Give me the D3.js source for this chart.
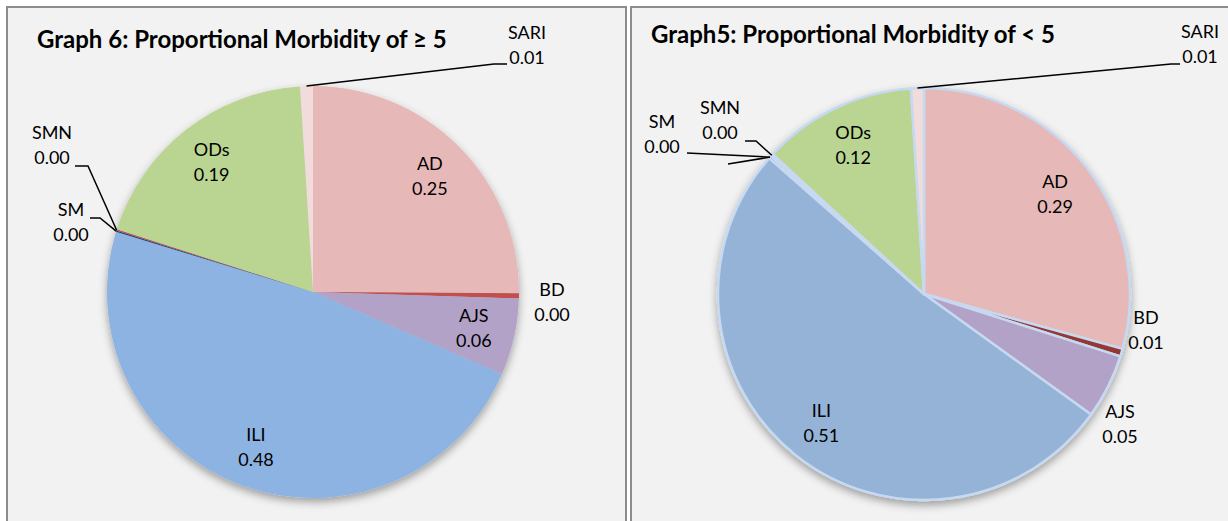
<!DOCTYPE html>
<html>
<head>
<meta charset="utf-8">
<script src="https://cdn.jsdelivr.net/npm/d3@7"></script>
<style>
  body { margin: 0; background: #fff; }
  svg { display: block; font-family: Lato, "Noto Sans", sans-serif; }
</style>
</head>
<body>
<svg id="chart" width="1228" height="521"></svg>
<script>
const categories = ["AD", "BD", "AJS", "ILI", "SM", "SMN", "ODs", "SARI"];
const over5Values = [0.25, 0.004, 0.06, 0.48, 0.001, 0.001, 0.19, 0.01];
const under5Values = [0.29, 0.006, 0.05, 0.51, 0.002, 0.002, 0.12, 0.01];
const over5Colors = ["#e6b9b8", "#c0504d", "#b3a2c7", "#8db3e2", "#1f497d", "#c0504d", "url(#green0)", "#f2dcdb"];
const under5Colors = ["#e6b9b8", "#953735", "#b3a2c7", "#95b3d7", "#4f81bd", "#c0504d", "url(#green1)", "#f2dcdb"];
const titles = ["Graph 6: Proportional Morbidity of \u2265 5", "Graph5: Proportional Morbidity of < 5"];

const fmt = d3.format(".2f");
const svg = d3.select("#chart");
const defs = svg.append("defs");

// panels
const panels = [{ x: 7, y: 7, w: 619 }, { x: 631, y: 7, w: 620 }];
panels.forEach(p => {
    svg.append("rect")
        .attr("x", p.x).attr("y", p.y)
        .attr("width", p.w).attr("height", 540)
        .attr("fill", "#f2f2f2")
        .attr("stroke", "#8c8c8c")
        .attr("stroke-width", 2);
});

defs.append("filter").attr("id", "shadow")
    .attr("x", "-20%").attr("y", "-20%").attr("width", "140%").attr("height", "140%")
    .append("feDropShadow")
    .attr("dx", 0).attr("dy", 4).attr("stdDeviation", 4)
    .attr("flood-color", "#000").attr("flood-opacity", 0.35);

const charts = [
    {
        values: over5Values, colors: over5Colors, title: titles[0],
        cx: 313, cy: 292, r: 206, titleX: 37, titleY: 48, stroke: null,
        inside: ["AD", "AJS", "ILI", "ODs"],
        outside: {
            BD: { x: 552, y: 290, leaders: [] },
            SARI: { x: 527, y: 33, leaders: [[[494, 64], [507, 64]]] },
            SMN: { x: 52, y: 133, leaders: [[[88, 166], [75, 166]]] },
            SM: { x: 71, y: 210, leaders: [[[100, 218], [90, 218]]] }
        }
    },
    {
        values: under5Values, colors: under5Colors, title: titles[1],
        cx: 924, cy: 294, r: 206, titleX: 651, titleY: 43, stroke: "#c6d9f1",
        inside: ["AD", "ILI", "ODs"],
        outside: {
            BD: { x: 1146, y: 318, leaders: [] },
            AJS: { x: 1120, y: 412, leaders: [] },
            SARI: { x: 1200, y: 32, leaders: [[[1171, 64], [1180, 64]]] },
            SMN: { x: 720, y: 108, leaders: [[[756, 141], [745, 141]]] },
            SM: { x: 662, y: 122, leaders: [[[687, 153]], [[728, 164]]] }
        }
    }
];

charts.forEach((c, ci) => {
    const grad = defs.append("radialGradient")
        .attr("id", "green" + ci)
        .attr("gradientUnits", "userSpaceOnUse")
        .attr("cx", c.cx).attr("cy", c.cy).attr("r", c.r);
    grad.append("stop").attr("offset", "0%").attr("stop-color", "#8ca262");
    grad.append("stop").attr("offset", "100%").attr("stop-color", "#bad592");

    const pie = d3.pie().sort(null).value(d => d.value);
    const arcs = pie(categories.map((k, i) => ({ key: k, value: c.values[i], color: c.colors[i] })));
    const arc = d3.arc().innerRadius(0).outerRadius(c.r);
    const labelArc = d3.arc().innerRadius(c.r * 0.8).outerRadius(c.r * 0.8);

    const g = svg.append("g").attr("transform", `translate(${c.cx},${c.cy})`);
    const pieG = g.append("g").attr("filter", "url(#shadow)");
    pieG.selectAll("path")
        .data(arcs)
        .join("path")
        .attr("d", arc)
        .attr("fill", d => d.data.color)
        .attr("stroke", c.stroke || "none")
        .attr("stroke-width", c.stroke ? 2.5 : 0)
        .attr("stroke-linejoin", "round");

    const twoLine = (x, y, a) => {
        const t = svg.append("text")
            .attr("text-anchor", "middle")
            .attr("font-size", 18)
            .attr("fill", "#000");
        t.append("tspan").attr("x", x).attr("y", y).attr("dy", "0.35em").text(a.data.key);
        t.append("tspan").attr("x", x).attr("y", y + 25).attr("dy", "0.35em").text(fmt(a.data.value));
    };

    arcs.forEach(a => {
        const k = a.data.key;
        if (c.inside.includes(k)) {
            const [lx, ly] = labelArc.centroid(a);
            twoLine(c.cx + lx, c.cy + ly - 12, a);
        } else if (c.outside[k]) {
            const o = c.outside[k];
            const mid = (a.startAngle + a.endAngle) / 2;
            const px = c.cx + c.r * Math.sin(mid);
            const py = c.cy - c.r * Math.cos(mid);
            o.leaders.forEach(pts => {
                svg.append("path")
                    .attr("d", d3.line()([[px, py], ...pts]))
                    .attr("fill", "none")
                    .attr("stroke", "#000")
                    .attr("stroke-width", 1.5);
            });
            twoLine(o.x, o.y, a);
        }
    });

    svg.append("text")
        .attr("x", c.titleX).attr("y", c.titleY)
        .attr("font-size", 24)
        .attr("font-weight", "bold")
        .attr("fill", "#000")
        .text(c.title);
});
</script>
</body>
</html>
